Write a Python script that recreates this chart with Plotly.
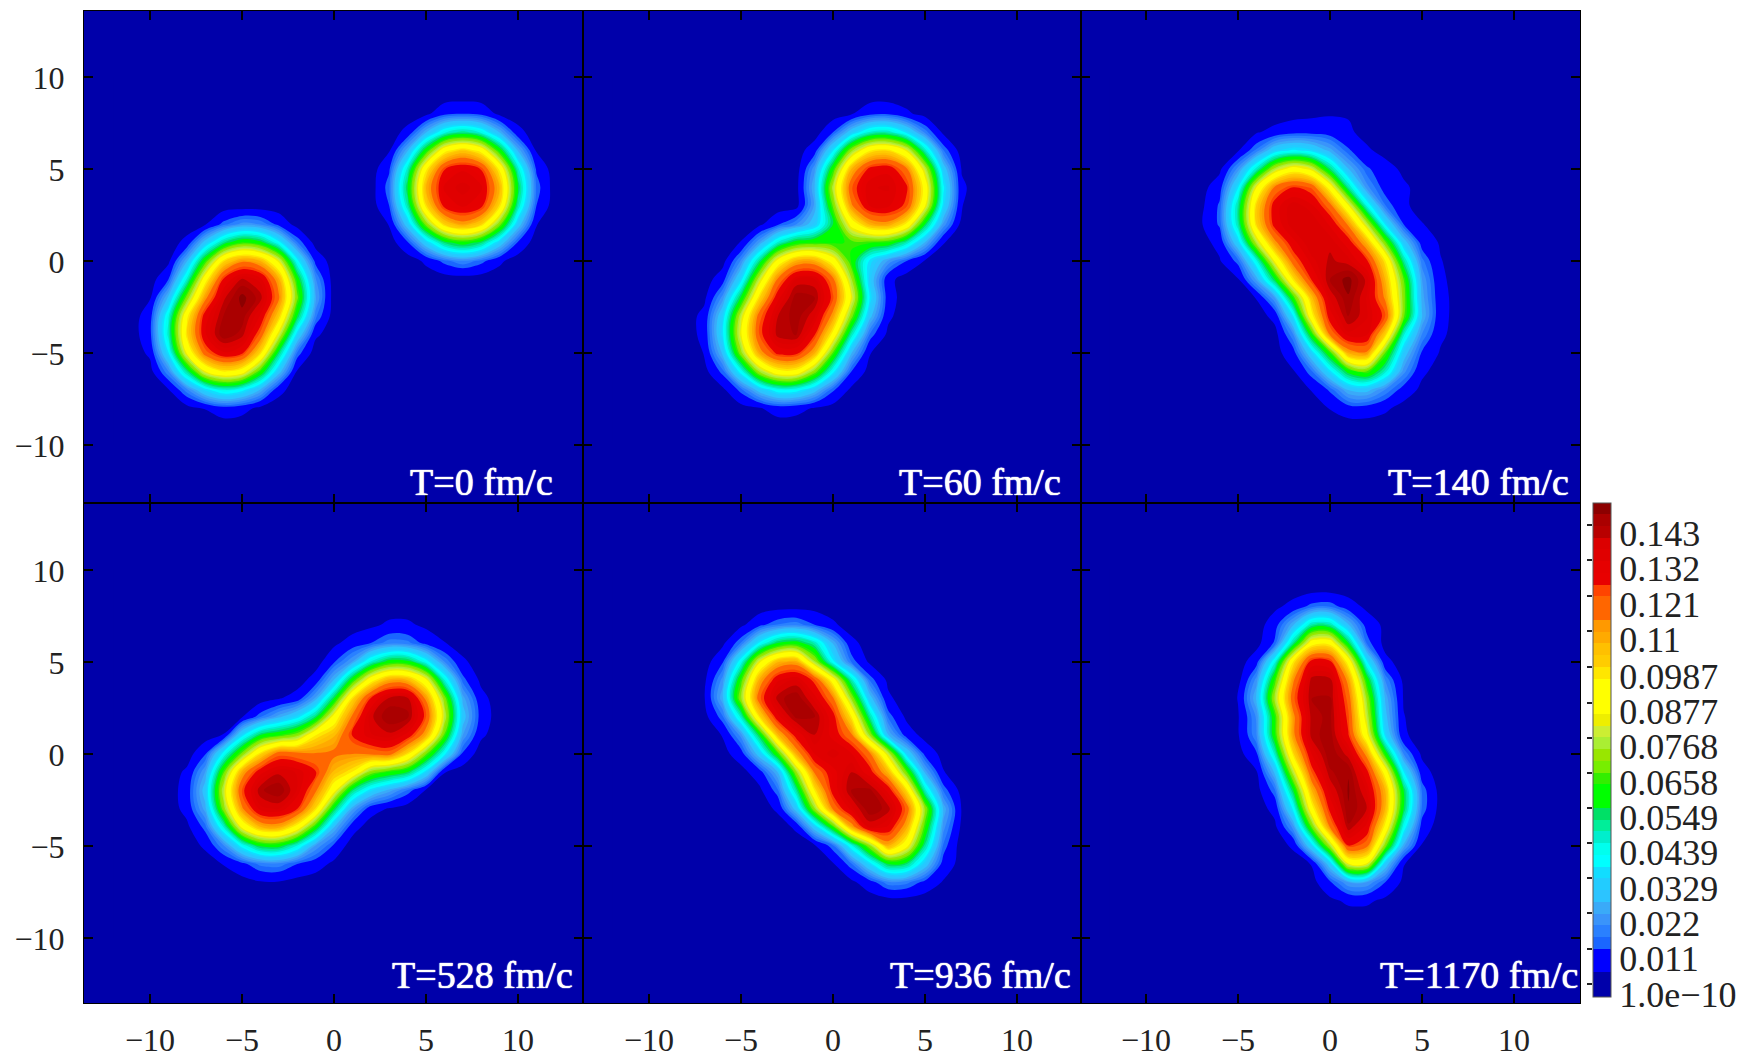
import numpy as np
import plotly.graph_objects as go

W, H = 1746, 1058
GRID_X = list(range(-12, 14))
GRID_Y = list(range(-10, 11))
UNIT = 0.001  # the grids below are density values in units of 0.001

TITLES = ["T=0 fm/c", "T=60 fm/c", "T=140 fm/c", "T=528 fm/c", "T=936 fm/c", "T=1170 fm/c"]

# each entry: y, first x, density values read along that row
P0 = [(8,5,[2,9,11,9,2]),(7,4,[6,25,43,50,43,25,6]),(6,3,[3,25,60,92,102,92,60,25,3]),
      (5,3,[10,46,94,124,131,124,94,46,10]),(4,3,[14,55,106,133,137,133,106,55,14]),
      (3,3,[11,48,98,127,133,127,98,48,11]),(2,3,[4,30,69,100,110,100,69,30,4]),
      (2,-7,[3,13,20,18,9,1]),(1,4,[10,31,52,60,52,31,10]),(1,-8,[6,29,51,63,58,39,15,1]),
      (0,5,[5,13,18,13,5]),(0,-9,[2,25,62,98,112,106,82,39,9]),(-1,-9,[11,45,91,126,140,134,108,60,19]),
      (-2,-10,[3,27,69,111,138,148,141,115,68,23]),(-3,-10,[8,43,93,129,143,145,131,101,55,16]),
      (-4,-10,[9,46,98,131,146,141,119,80,33,5]),(-5,-10,[5,36,85,118,131,126,98,52,14]),
      (-6,-10,[1,18,50,84,96,90,62,29,3]),(-7,-9,[3,17,34,44,39,25,6]),(-8,-8,[1,4,8,6,2])]
P1 = [(8,1,[3,9,10,5,1]),(7,0,[11,30,45,47,35,17,2]),(6,-1,[8,36,72,95,98,83,47,15]),
      (5,-1,[21,61,106,127,130,115,78,30,3]),(4,-2,[1,26,76,120,135,136,126,91,38,5]),
      (3,-2,[1,23,67,112,132,133,122,85,34,4]),(2,-4,[2,10,18,30,55,88,107,110,94,55,21,1]),
      (1,-5,[4,22,45,59,62,61,63,63,61,47,25,4]),(0,-6,[1,19,51,88,107,108,90,61,35,21,11,3]),
      (-1,-6,[8,34,78,115,136,136,116,74,31,6]),(-2,-7,[2,20,56,99,130,145,143,122,83,36,7]),
      (-3,-7,[6,32,78,118,139,145,136,110,69,28,5]),(-4,-7,[6,35,83,121,141,143,125,92,47,14,2]),
      (-5,-7,[4,27,71,109,127,127,107,65,26,4]),(-6,-7,[1,13,40,74,92,92,70,39,11,1]),
      (-7,-6,[2,13,29,41,40,29,12,2]),(-8,-5,[1,3,7,6,3,1])]
P2 = [(8,-2,[1,2,3,3,1]),(7,-4,[3,6,9,9,8,5,1]),(6,-5,[3,16,32,38,34,24,12,5,1]),
      (5,-6,[2,20,46,76,90,81,52,26,12,7,2]),(4,-7,[1,8,36,84,115,125,120,91,49,20,8,5,1]),
      (3,-7,[2,12,49,100,129,138,133,117,85,43,15,5,1]),
      (2,-7,[3,12,48,99,128,138,139,131,112,77,36,11,4,1]),
      (1,-7,[1,6,32,76,111,130,139,138,129,106,68,30,8,3]),
      (0,-6,[3,13,42,85,118,134,140,137,126,96,50,16,4,1]),
      (-1,-5,[3,23,55,97,125,143,148,138,106,66,22,5,1]),
      (-2,-4,[4,22,62,104,136,146,135,112,70,24,6,1]),
      (-3,-3,[6,36,92,129,143,136,122,68,26,6,1]),
      (-4,-3,[1,18,60,115,134,132,100,45,18,5,1]),(-5,-3,[1,8,32,62,108,112,66,30,10,3]),
      (-6,-2,[3,14,35,58,66,46,20,5,1]),(-7,-1,[4,12,26,28,18,8,2]),(-8,0,[4,8,8,5,1])]
P3 = [(7,2,[2,5,5,2]),(6,-1,[1,2,7,11,17,16,9,4]),(5,0,[10,22,44,58,57,40,18,5]),
      (4,-1,[7,26,60,91,108,106,86,44,13,2]),(3,-3,[3,7,23,55,98,125,140,140,112,70,24,6]),
      (2,-5,[3,14,24,34,52,88,115,138,146,144,122,78,29,8]),
      (1,-6,[4,34,55,62,70,95,105,125,135,138,130,108,65,22,5]),
      (0,-7,[10,39,68,98,118,116,114,116,114,116,118,98,68,39,10]),
      (-1,-8,[5,22,65,108,130,138,135,125,105,95,70,62,55,34,4]),
      (-2,-8,[7,29,78,122,142,146,135,115,88,52,34,24,14,3]),
      (-3,-8,[6,24,70,112,134,136,125,98,55,23,7,3]),(-4,-8,[2,13,44,86,106,108,91,60,26,7]),
      (-5,-7,[5,18,40,57,58,44,22,10]),(-6,-6,[4,9,16,17,11,7,2,1]),(-7,-5,[1,3,3,1])]
P4 = [(8,-3,[1,1,1]),(7,-5,[2,9,15,17,11,5]),(6,-6,[2,15,38,55,59,47,25,6]),
      (5,-6,[10,41,82,105,108,74,38,14,2]),(4,-7,[2,20,63,108,131,136,122,90,47,14,2]),
      (3,-7,[3,25,72,119,141,146,134,115,72,29,5]),(2,-7,[1,14,46,98,130,144,143,128,96,49,14,2]),
      (1,-6,[4,20,55,105,128,139,130,115,72,26,8,1]),(0,-6,[1,8,30,63,108,132,137,132,115,78,32,9,1]),
      (-1,-5,[1,8,26,72,115,130,139,128,105,66,24,4]),(-2,-4,[2,14,49,96,128,143,144,130,98,46,14,1]),
      (-3,-3,[5,29,72,115,134,146,141,119,72,25,3]),(-4,-2,[5,30,62,108,136,131,108,63,20,2]),
      (-5,-1,[3,14,42,72,108,88,50,14]),(-6,0,[3,14,34,55,52,30,8,1]),(-7,0,[1,2,8,17,16,9,3]),(-8,3,[1,1])]
P5 = [(8,-3,[2,6,13,14,7,2]),(7,-3,[8,25,48,48,26,8,2]),(6,-4,[1,12,50,90,92,55,14,1]),
      (5,-4,[8,42,95,128,126,91,37,6]),(4,-5,[1,20,63,112,141,141,110,60,18,2]),
      (3,-5,[4,26,74,119,143,143,118,72,25,3]),(2,-5,[3,19,62,111,141,144,122,78,28,4]),
      (1,-5,[3,18,61,111,141,145,125,87,34,5]),(0,-5,[1,10,46,98,132,146,137,110,60,18,2]),
      (-1,-4,[3,27,77,121,142,146,127,91,37,7]),(-2,-4,[1,14,55,106,135,147,135,106,55,14,1]),
      (-3,-3,[6,38,91,127,146,139,106,55,14,1]),(-4,-3,[2,20,66,114,142,130,93,41,8]),
      (-5,-2,[5,33,75,125,117,70,24,3]),(-6,-1,[4,30,83,83,30,4]),(-7,-1,[1,10,22,22,11,2]),(-8,0,[2,5,5,2])]
PANELS = [P0, P1, P2, P3, P4, P5]

AXIS_TICKS = [-10, -5, 0, 5, 10]
BAR_TICKS = [1e-10, 0.011, 0.022, 0.0329, 0.0439, 0.0549, 0.0658, 0.0768, 0.0877, 0.0987,
             0.11, 0.121, 0.132, 0.143]
BAR_LABELS = ["1.0e\u221210", "0.011", "0.022", "0.0329", "0.0439", "0.0549", "0.0658", "0.0768",
              "0.0877", "0.0987", "0.11", "0.121", "0.132", "0.143"]
BAND_COLORS = ["#0000AA","#0000FF","#0000FF","#1A66FF","#2A80FF","#3A94FA","#3AAAF8","#2CC4FF","#22CCFF",
               "#11DDFF","#00FFFF","#00FFEE","#00EECC","#00EE99","#00E066","#00FF00","#00FF00","#33EE00",
               "#77EE00","#99E600","#AAEE33","#CCEE33","#EEEE00","#FFFF00","#FFFF00","#FFFF00","#FFE600",
               "#FFCC00","#FFC000","#FFAA00","#FF9900","#FF6600","#FF6600","#FF4400","#E80000","#E60000",
               "#E00000","#DC0000","#B80000","#AA0000","#8C0000"]
LEVEL_STEP = 0.00366
BAR_MIN, BAR_MAX = -0.00405, 0.1499

def grid(rows):
    z = np.zeros((len(GRID_Y), len(GRID_X)))
    for y, x0, vals in rows:
        i = GRID_Y.index(y)
        j = GRID_X.index(x0)
        z[i, j:j + len(vals)] = vals
    return z * UNIT

# page pixel geometry
XP = [(84, 583, 334), (583, 1081, 833), (1081, 1580, 1330)]
YP = [(11, 503, 261), (503, 1003, 753.5)]
PX = 18.4
TITLE_RIGHT = [555, 1063, 1571, 575, 1073, 1580]
TITLE_Y = [482, 482, 482, 975, 975, 975]

nb = len(BAND_COLORS)
scale = [[i / (nb - 1), c] for i, c in enumerate(BAND_COLORS)]

# stepped colour scale for the colour bar: band i spans (i-1)..i level steps
bar_scale = []
for i, c in enumerate(BAND_COLORS):
    lo = BAR_MIN if i == 0 else i * LEVEL_STEP
    hi = BAR_MAX if i == nb - 1 else (i + 1) * LEVEL_STEP
    bar_scale.append([(lo - BAR_MIN) / (BAR_MAX - BAR_MIN), c])
    bar_scale.append([(hi - BAR_MIN) / (BAR_MAX - BAR_MIN), c])

fig = go.Figure()
layout = {}
for k, rows in enumerate(PANELS):
    c, r = k % 3, k // 3
    xa, xb, x0 = XP[c]
    ya, yb, y0 = YP[r]
    n = "" if k == 0 else str(k + 1)
    fig.add_trace(go.Contour(
        x=GRID_X, y=GRID_Y, z=grid(rows), xaxis="x" + n, yaxis="y" + n,
        colorscale=scale, zmin=0, zmax=0.15, autocontour=False,
        contours=dict(start=LEVEL_STEP, end=LEVEL_STEP * 40, size=LEVEL_STEP, coloring="fill", showlines=False),
        line=dict(width=0, smoothing=1.0), hoverinfo="skip", showscale=False,
    ))
    common = dict(showgrid=False, zeroline=False, showline=True, linecolor="black", linewidth=1,
                  mirror="ticks", ticks="inside", ticklen=9, tickwidth=1.5, tickcolor="black",
                  tickvals=AXIS_TICKS, tickfont=dict(family="Liberation Serif", size=32, color="#222222"))
    layout["xaxis" + n] = {**common, "domain": [xa / W, xb / W], "range": [(xa - x0) / PX, (xb - x0) / PX],
                           "anchor": "y" + n, "showticklabels": r == 1, "ticklabelstandoff": 9}
    layout["yaxis" + n] = {**common, "domain": [1 - yb / H, 1 - ya / H], "range": [(y0 - yb) / PX, (y0 - ya) / PX],
                           "anchor": "x" + n, "showticklabels": c == 0, "ticklabelstandoff": 12,
                           "ticklabelshift": 1}

# colour bar, with its tick marks on the left side; its labels sit a little below the marks
fig.add_trace(go.Scatter(
    x=[0] * len(BAR_TICKS), y=BAR_TICKS, xaxis="x7", yaxis="y7", mode="markers", hoverinfo="skip", showlegend=False,
    marker=dict(opacity=0, color=BAR_TICKS, colorscale=bar_scale, cmin=BAR_MIN, cmax=BAR_MAX, showscale=True,
                colorbar=dict(x=1593 / W, xanchor="left", xpad=0, y=(H - 997) / H, yanchor="bottom", ypad=0,
                              len=494 / H, lenmode="fraction", thickness=18, thicknessmode="pixels",
                              outlinecolor="#555555", outlinewidth=1, ticks="",
                              tickvals=[v - 0.0032 + v * 0.005 for v in BAR_TICKS], ticktext=BAR_LABELS,
                              tickfont=dict(family="Liberation Serif", size=36, color="#222222")))))
layout["xaxis7"] = dict(domain=[1593 / W, 1611 / W], visible=False, anchor="y7")
layout["yaxis7"] = dict(domain=[1 - 997 / H, 1 - 503 / H], range=[BAR_MIN, BAR_MAX], anchor="x7", showgrid=False,
                        zeroline=False, showline=False, ticks="outside", ticklen=5, tickwidth=1.5, tickcolor="#222222",
                        tickvals=BAR_TICKS, showticklabels=False)

ann = [dict(text=t, x=xr / W, y=1 - yc / H, xref="paper", yref="paper", xanchor="right", yanchor="middle",
            showarrow=False,
            font=dict(family="Liberation Serif", size=38, color="white", shadow="0 0 1px white, 0 0 1px white"))
       for t, xr, yc in zip(TITLES, TITLE_RIGHT, TITLE_Y)]

fig.update_layout(width=W, height=H, margin=dict(l=0, r=0, t=0, b=0), paper_bgcolor="white",
                  plot_bgcolor="#0000AA", showlegend=False, annotations=ann, **layout)
fig.write_html("out.html", post_script="document.body.style.margin='0';", config=dict(displayModeBar=False))
